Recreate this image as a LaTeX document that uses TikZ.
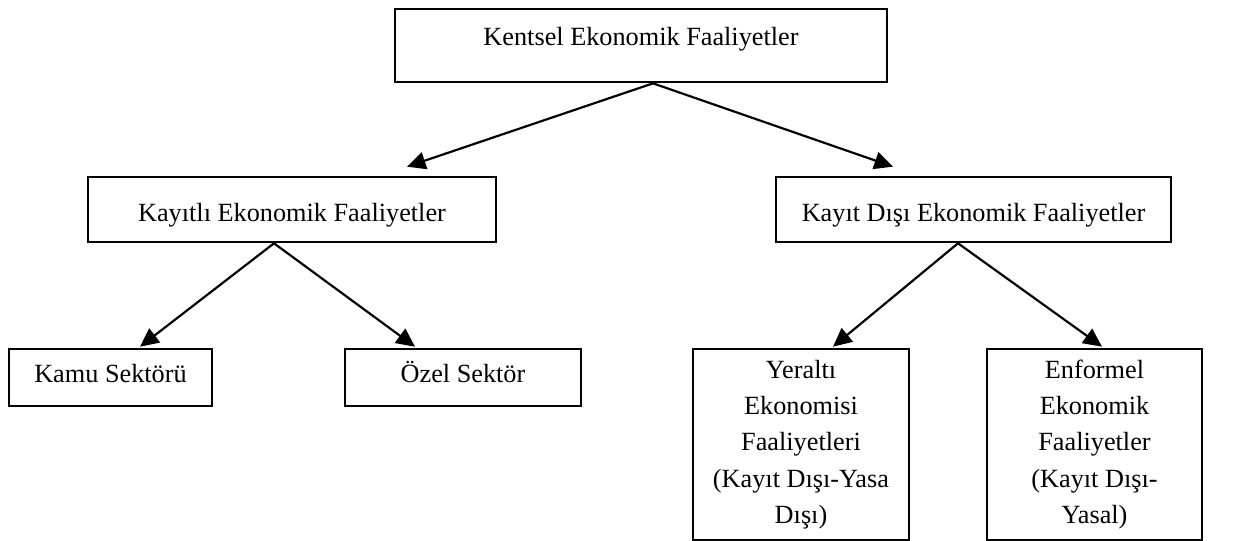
\documentclass[tikz,border=0pt]{standalone}
\usepackage{fontspec}
\setmainfont{Liberation Serif}
\usetikzlibrary{arrows.meta, calc}

\begin{document}
\begin{tikzpicture}[
    x=0.457pt, y=0.457pt,
    box/.style={draw, line width=1.2pt, inner sep=0pt, align=center, font=\fontsize{12}{16.6}\selectfont},
    toplevel/.style={box, minimum height=33.4pt, text height=9pt, text depth=9pt},
    midlevel/.style={box, minimum height=29.7pt, text height=14pt, text depth=2.6pt},
    leaf/.style={box, minimum height=26pt, text height=8pt, text depth=3pt},
    tallleaf/.style={box, minimum height=87.3pt},
    link/.style={-{Triangle[length=8.5pt, width=8pt]}, line width=1pt}
]
    \useasboundingbox (0,0) rectangle (1237,-541);

    % Top level
    \node[toplevel, minimum width=224.8pt] (kentsel) at (641,-45.5) {Kentsel Ekonomik Faaliyetler};

    % Second level
    \node[midlevel, minimum width=186.5pt] (kayitli) at (292,-209.5) {Kayıtlı Ekonomik Faaliyetler};
    \node[midlevel, minimum width=180.5pt] (kayitdisi) at (973.5,-209.5) {Kayıt Dışı Ekonomik Faaliyetler};

    % Leaves
    \node[leaf, minimum width=92.8pt] (kamu) at (110.5,-377.5) {Kamu Sektörü};
    \node[leaf, minimum width=107.9pt] (ozel) at (463,-377.5) {Özel Sektör};
    \node[tallleaf, minimum width=98.7pt] (yeralti) at (801,-444.5) {Yeraltı\\Ekonomisi\\Faaliyetleri\\(Kayıt Dışı-Yasa\\Dışı)};
    \node[tallleaf, minimum width=98.3pt] (enformel) at (1094.5,-444.5) {Enformel\\Ekonomik\\Faaliyetler\\(Kayıt Dışı-\\Yasal)};

    % Arrows
    \draw[link] ($(kentsel.south)+(12,0)$) -- ($(kayitli.north)+(115,9)$);
    \draw[link] ($(kentsel.south)+(12,0)$) -- ($(kayitdisi.north)+(-80.5,9)$);
    \draw[link] ($(kayitli.south)+(-18,0)$) -- ($(kamu.north)+(29.5,1)$);
    \draw[link] ($(kayitli.south)+(-18,0)$) -- ($(ozel.north)+(-48,1)$);
    \draw[link] ($(kayitdisi.south)+(-15.5,0)$) -- ($(yeralti.north)+(32,1)$);
    \draw[link] ($(kayitdisi.south)+(-15.5,0)$) -- ($(enformel.north)+(7.5,1)$);
\end{tikzpicture}
\end{document}
